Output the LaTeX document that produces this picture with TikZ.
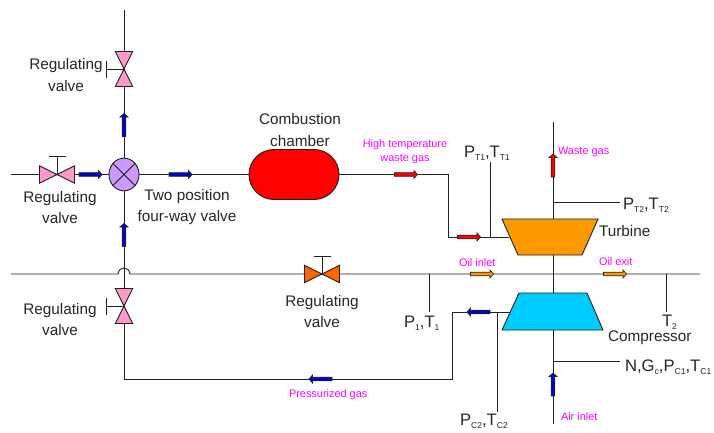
\documentclass[tikz,border=0pt]{standalone}
\usepackage{fontspec}
\setmainfont{Liberation Sans}
\usetikzlibrary{shapes.geometric,shapes.misc}
\definecolor{valvepink}{HTML}{FF99CC}
\definecolor{valvepurple}{HTML}{CC99FF}
\definecolor{valveorange}{HTML}{FF6600}
\definecolor{turbineorange}{HTML}{FF9900}
\definecolor{compblue}{HTML}{00CCFF}
\definecolor{flowblue}{HTML}{0000D0}
\definecolor{linedark}{HTML}{202020}
\definecolor{notepink}{HTML}{FF00FF}
\definecolor{flowred}{HTML}{FF0000}
\newcommand{\lowtxt}[1]{\raisebox{-0.3ex}{\fontsize{6.4}{8}\selectfont #1}}
\tikzset{
  pipe/.style={draw=linedark,line width=0.68pt},
  body/.style={draw=linedark,line width=0.68pt},
  lbl/.style={inner sep=0pt,outer sep=0pt,align=center,text=black!85,font=\fontsize{11.5}{15.8}\selectfont},
  meas/.style={inner sep=0pt,outer sep=0pt,anchor=west,text=black!85,font=\fontsize{12.5}{15}\selectfont},
  note/.style={inner sep=0pt,outer sep=0pt,align=center,text=notepink,font=\fontsize{8.2}{10.6}\selectfont},
  flow/.pic={
    \filldraw[fill=#1,draw=black!85,line width=0.5pt,line join=miter]
      (-11.5,-1.8) -- (8,-1.8) -- (8,-4) -- (11.5,0) -- (8,4) -- (8,1.8) -- (-11.5,1.8) -- cycle;
  },
  valvebody/.pic={
    \filldraw[fill=#1,body,line join=miter] (-17.5,-8.7) -- (0,0) -- (-17.5,8.7) -- cycle;
    \filldraw[fill=#1,body,line join=miter] (17.5,-8.7) -- (0,0) -- (17.5,8.7) -- cycle;
    \draw[body] (0,0) -- (0,-18);
    \draw[body] (-8.5,-18) -- (8.5,-18);
  }
}
\begin{document}
\begin{tikzpicture}[x=0.75pt,y=-0.75pt]
\useasboundingbox (0,0) rectangle (714,432);
% free ends and junctions
\coordinate (vTop) at (124,10);
\coordinate (vBot) at (124,379);
\coordinate (leftIn) at (11,174.5);
\coordinate (hotBendA) at (448,174.5);
\coordinate (hotBendB) at (448,237);
\coordinate (turbIn) at (509,237);
\coordinate (oilL) at (11,274);
\coordinate (hopL) at (118,274);
\coordinate (hopR) at (130,274);
\coordinate (oilR) at (700,274);
\coordinate (pressBendA) at (452,379);
\coordinate (pressBendB) at (452,312);
\coordinate (compOut) at (510,312);
\coordinate (shaftTop) at (553,122);
\coordinate (shaftBot) at (553,424);
% nodes
\node[ellipse,draw=linedark,line width=0.68pt,fill=valvepurple,minimum width=22.5pt,minimum height=24.5pt,inner sep=0pt] (fourway) at (124,174.5) {};
\node[rounded rectangle,draw=linedark,line width=0.68pt,fill=red,minimum width=67.5pt,minimum height=37.5pt,inner sep=0pt] (chamber) at (294,174.5) {};
% pipes
\draw[pipe] (vTop) -- (fourway.north);
\draw[pipe] (fourway.south) -- (vBot) -- (pressBendA) -- (pressBendB) -- (compOut);
\draw[pipe] (leftIn) -- (fourway.west);
\draw[pipe] (fourway.east) -- (chamber.west);
\draw[pipe] (chamber.east) -- (hotBendA) -- (hotBendB) -- (turbIn);
\draw[pipe] (oilL) -- (hopL) .. controls (119,266) and (129,266) .. (hopR) -- (oilR);
\draw[pipe] (shaftTop) -- (shaftBot);
% cross of the four-way valve
\draw[pipe] (fourway.45) -- (fourway.225);
\draw[pipe] (fourway.135) -- (fourway.315);
% turbine and compressor
\filldraw[fill=turbineorange,body] (502,219) -- (598,219) -- (582,255) -- (518,255) -- cycle;
\filldraw[fill=compblue,body] (519,293) -- (587,293) -- (603,330) -- (502,330) -- cycle;
% valves
\pic at (57,174.5) {valvebody=valvepink};
\pic at (322,274) {valvebody=valveorange};
\pic[rotate=90] at (124,69) {valvebody=valvepink};
\pic[rotate=90] at (124,306) {valvebody=valvepink};
% measuring taps
\coordinate (tapPT1a) at (490,237); \coordinate (tapPT1b) at (490,162);
\coordinate (tapPT2a) at (553,202); \coordinate (tapPT2b) at (620,202);
\coordinate (tapP1a) at (429,274);  \coordinate (tapP1b) at (429,312);
\coordinate (tapT2a) at (666,274);  \coordinate (tapT2b) at (666,312);
\coordinate (tapPC2a) at (497,312); \coordinate (tapPC2b) at (497,412);
\coordinate (tapNa) at (553,361);   \coordinate (tapNb) at (620,361);
\draw[pipe] (tapPT1a) -- (tapPT1b);
\draw[pipe] (tapPT2a) -- (tapPT2b);
\draw[pipe] (tapP1a) -- (tapP1b);
\draw[pipe] (tapT2a) -- (tapT2b);
\draw[pipe] (tapPC2a) -- (tapPC2b);
\draw[pipe] (tapNa) -- (tapNb);
% flow arrows
\pic at (90.5,174.5) {flow=flowblue};
\pic at (180.5,174.5) {flow=flowblue};
\pic[rotate=90] at (124,125) {flow=flowblue};
\pic[rotate=90] at (124,235) {flow=flowblue};
\pic at (406,174.5) {flow=flowred};
\pic at (469,237) {flow=flowred};
\pic[rotate=90] at (553,165.5) {flow=flowred};
\pic at (482,274) {flow=turbineorange};
\pic at (615,274) {flow=turbineorange};
\pic[rotate=180] at (478.5,312) {flow=flowblue};
\pic[rotate=180] at (320.5,379) {flow=flowblue};
\pic[rotate=90] at (553,384.5) {flow=flowblue};
% labels
\node[lbl] (tTop) at (66,75) {Regulating\\valve};
\node[lbl] (tLeft) at (60,207.5) {Regulating\\valve};
\node[lbl] (tLow) at (60,319.5) {Regulating\\valve};
\node[lbl] (tFour) at (187,207.5) {Two position\\four-way valve};
\node[lbl] (tChamber) at (300,130) {Combustion\\chamber};
\node[lbl] (tMid) at (322,311.5) {Regulating\\valve};
\node[lbl,anchor=west] (tTurbine) at (599,231) {Turbine};
\node[lbl,anchor=west] (tComp) at (608,338) {Compressor};
\node[meas] (tPT1) at (464,153.5) {P\lowtxt{T1},T\lowtxt{T1}};
\node[meas] (tPT2) at (623,205) {P\lowtxt{T2},T\lowtxt{T2}};
\node[meas] (tP1) at (404,323.5) {P\lowtxt{1},T\lowtxt{1}};
\node[meas] (tT2) at (662,322) {T\lowtxt{2}};
\node[meas] (tPC2) at (460,421) {P\lowtxt{C2},T\lowtxt{C2}};
\node[meas] (tN) at (625,367) {N,G\lowtxt{c},P\lowtxt{C1},T\lowtxt{C1}};
\node[note] (nHigh) at (405,152) {High temperature\\waste gas};
\node[note,anchor=west] (nWaste) at (558,152) {Waste gas};
\node[note,anchor=west] (nOilIn) at (459,263) {Oil inlet};
\node[note,anchor=west] (nOilOut) at (599,262) {Oil exit};
\node[note,anchor=west] (nPress) at (289,395) {Pressurized gas};
\node[note,anchor=west] (nAir) at (561,417) {Air inlet};
\end{tikzpicture}
\end{document}
